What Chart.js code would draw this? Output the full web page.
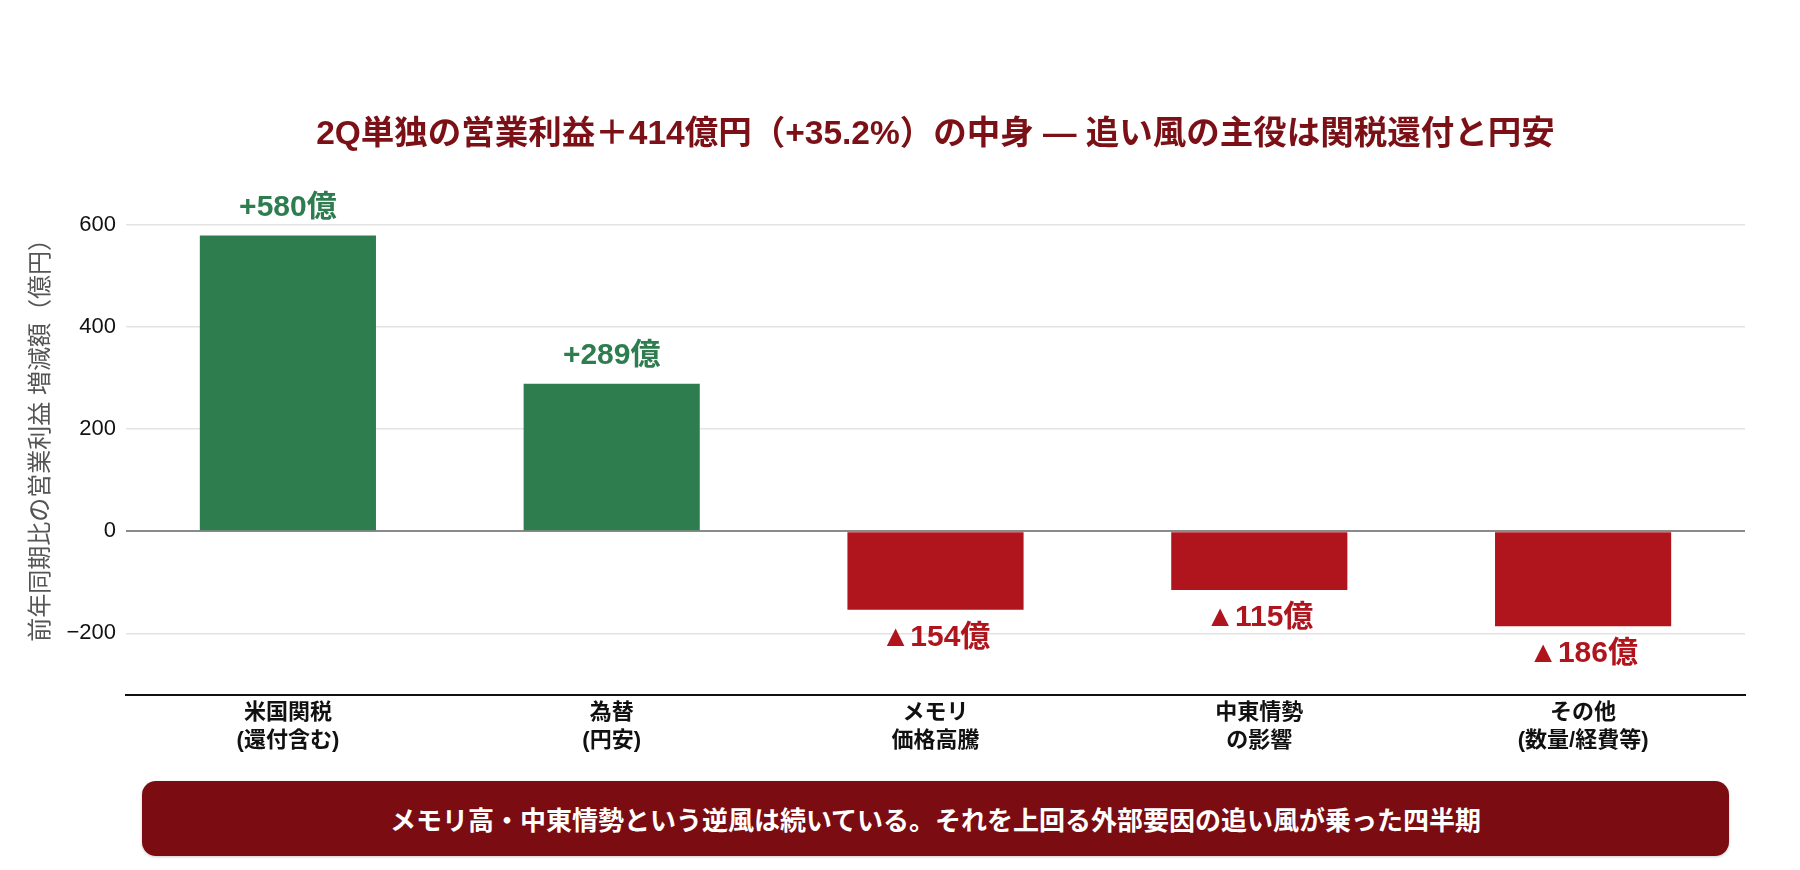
<!DOCTYPE html>
<html lang="ja">
<head>
  <meta charset="UTF-8" />
  <title>2Q営業利益の中身</title>
  <script src="https://cdn.jsdelivr.net/npm/chart.js"></script>
  <style>
    body {
      margin: 0;
      background: #ffffff;
      font-family: 'Liberation Sans', 'Noto Sans CJK JP', sans-serif;
    }
    .wrap {
      position: relative;
      width: 1800px;
      height: 870px;
    }
    .chart-box {
      position: absolute;
      left: 0;
      top: 0;
      width: 1800px;
      height: 770px;
    }
    .banner {
      position: absolute;
      left: 142px;
      top: 781px;
      width: 1587px;
      height: 75px;
      background: #7a0c12;
      border-radius: 14px;
      color: #fff;
      font-weight: bold;
      font-size: 26px;
      display: flex;
      align-items: center;
      justify-content: center;
      box-shadow: 0 1px 3px rgba(0, 0, 0, 0.2);
    }
  </style>
</head>
<body>
  <div class="wrap">
    <div class="chart-box"><canvas id="bridgeChart"></canvas></div>
    <div class="banner">メモリ高・中東情勢という逆風は続いている。それを上回る外部要因の追い風が乗った四半期</div>
  </div>

  <script>
    // data
    const categories = [
      ['米国関税', '(還付含む)'],
      ['為替', '(円安)'],
      ['メモリ', '価格高騰'],
      ['中東情勢', 'の影響'],
      ['その他', '(数量/経費等)']
    ];
    const deltas = [580, 289, -154, -115, -186];
    const yTicks = [-200, 0, 200, 400, 600];

    const FONT = "'Liberation Sans', 'Noto Sans CJK JP', sans-serif";
    const GREEN = '#2e7d4f';
    const RED = '#b0141c';

    function fmtLabel(v) {
      return v >= 0 ? '+' + v + '億' : '▲' + Math.abs(v) + '億';
    }

    // value labels above / below each bar
    const valueLabels = {
      id: 'valueLabels',
      afterDatasetsDraw(chart) {
        const ctx = chart.ctx;
        const meta = chart.getDatasetMeta(0);
        ctx.save();
        ctx.font = 'bold 30px ' + FONT;
        ctx.textAlign = 'center';
        ctx.textBaseline = 'middle';
        meta.data.forEach((bar, i) => {
          const v = deltas[i];
          ctx.fillStyle = v >= 0 ? GREEN : RED;
          const y = v >= 0 ? bar.y - 28 : bar.y + 28;
          ctx.fillText(fmtLabel(v), bar.x, y);
        });
        ctx.restore();
      }
    };

    const ctx = document.getElementById('bridgeChart').getContext('2d');
    new Chart(ctx, {
      type: 'bar',
      data: {
        labels: categories,
        datasets: [{
          data: deltas,
          backgroundColor: deltas.map(v => v >= 0 ? GREEN : RED),
          borderWidth: 0,
          barPercentage: 0.544,
          categoryPercentage: 1
        }]
      },
      options: {
        responsive: true,
        maintainAspectRatio: false,
        animation: false,
        layout: { padding: { top: 0, left: 27, right: 55, bottom: 0 } },
        plugins: {
          legend: { display: false },
          tooltip: { enabled: false },
          title: {
            display: true,
            fullSize: false,
            text: '2Q単独の営業利益＋414億円（+35.2%）の中身 — 追い風の主役は関税還付と円安',
            color: '#7b1016',
            font: { family: FONT, size: 33.5, weight: 'bold' },
            padding: { top: 115, bottom: 19 }
          }
        },
        scales: {
          x: {
            grid: { display: false, drawTicks: false },
            border: { display: true, color: '#111', width: 2 },
            ticks: {
              color: '#111',
              padding: 5,
              font: { family: FONT, size: 22, weight: 'bold', lineHeight: 1.25 }
            },
            afterFit(scale) { scale.height = 75.5; }
          },
          y: {
            min: -320,
            max: 700,
            afterBuildTicks(scale) {
              scale.ticks = yTicks.map(v => ({ value: v }));
            },
            border: { display: false },
            grid: {
              drawTicks: false,
              color: c => c.tick && c.tick.value === 0 ? '#8a8a8a' : '#e3e3e3',
              lineWidth: c => c.tick && c.tick.value === 0 ? 2 : 1.5
            },
            ticks: {
              color: '#111',
              padding: 10,
              font: { family: FONT, size: 22 },
              callback: v => v < 0 ? '−' + Math.abs(v) : String(v)
            },
            title: {
              display: true,
              text: '前年同期比の営業利益 増減額（億円）',
              color: '#555',
              font: { family: FONT, size: 24 },
              padding: { top: 0, bottom: 0 }
            },
            afterFit(scale) { scale.width = 99; }
          }
        }
      },
      plugins: [valueLabels]
    });
  </script>
</body>
</html>
